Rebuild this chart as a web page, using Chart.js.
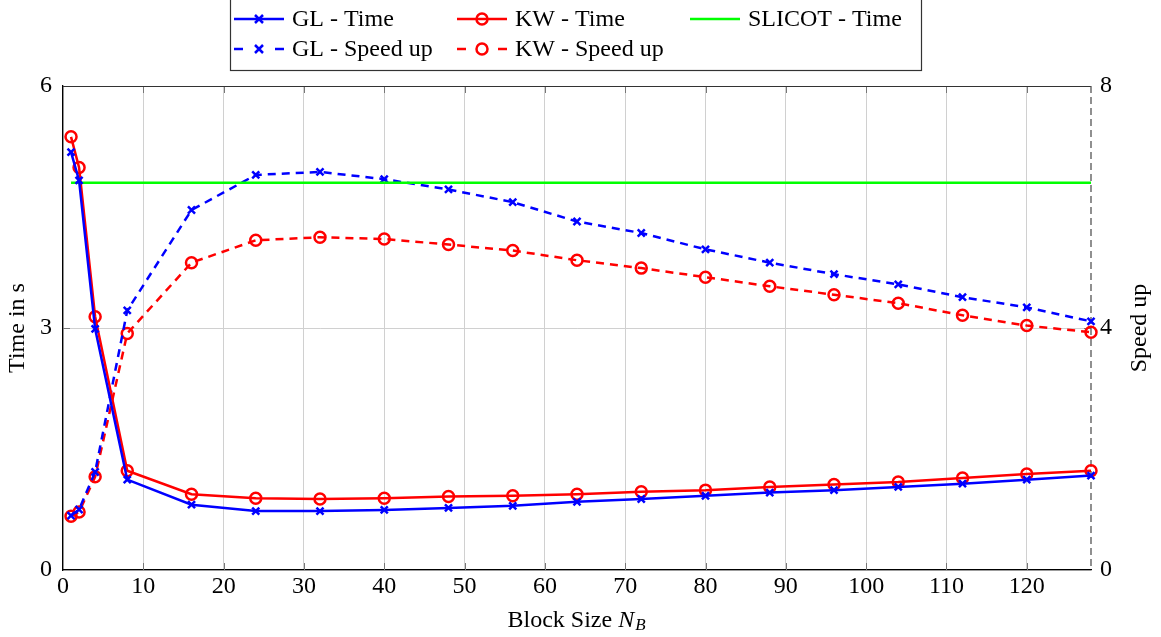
<!DOCTYPE html>
<html>
<head>
<meta charset="utf-8">
<script src="https://cdn.jsdelivr.net/npm/chart.js@4.4.0/dist/chart.umd.min.js"></script>
<style>
  html,body{margin:0;padding:0;background:#fff;}
  #wrap{width:1161px;height:637px;position:relative;}
</style>
</head>
<body>
<div id="wrap"><canvas id="c" width="1161" height="637"></canvas></div>
<script>
const blockSizes = [1,2,4,8,16,24,32,40,48,56,64,72,80,88,96,104,112,120,128];
const glTime   = [5.18,4.83,2.99,1.12,0.81,0.73,0.73,0.745,0.77,0.795,0.845,0.88,0.92,0.96,0.99,1.03,1.07,1.12,1.17];
const kwTime   = [5.37,4.99,3.14,1.23,0.94,0.89,0.88,0.89,0.91,0.92,0.94,0.97,0.99,1.03,1.06,1.09,1.14,1.19,1.23];
const slicotX  = [1,128];
const slicotTime = [4.8,4.8];
const glSpeed  = [0.9,1.0,1.62,4.29,5.95,6.53,6.58,6.46,6.29,6.08,5.76,5.57,5.30,5.08,4.89,4.72,4.51,4.34,4.11];
const kwSpeed  = [0.89,0.96,1.54,3.91,5.08,5.45,5.50,5.47,5.38,5.28,5.12,4.99,4.84,4.69,4.55,4.41,4.21,4.04,3.93];
const xTicksStep = 10, timeTicks = [0,3,6], speedTicks = [0,4,8];

const FONT = "'Liberation Serif', 'DejaVu Serif', serif";
const BLUE = '#0000ff', RED = '#ff0000', GREEN = '#00ff00';
const pts = (xs, ys) => xs.map((x,i)=>({x, y:ys[i]}));

// frame pieces that pgfplots draws: top line, dashed right axis, inward tick marks
const frame = {
  id:'frame',
  beforeDatasetsDraw(chart){
    const ctx = chart.ctx, a = chart.chartArea, xs = chart.scales.x, ys = chart.scales.y;
    ctx.save();
    ctx.strokeStyle = '#777'; ctx.lineWidth = 1;
    xs.ticks.forEach(t=>{
      const px = Math.round(xs.getPixelForValue(t.value))+0.5;
      if(px <= a.left+1) return;
      ctx.beginPath(); ctx.moveTo(px, a.bottom); ctx.lineTo(px, a.bottom-7);
      ctx.moveTo(px, a.top); ctx.lineTo(px, a.top+7); ctx.stroke();
    });
    const py = Math.round(ys.getPixelForValue(3))+0.5;
    ctx.beginPath(); ctx.moveTo(a.left, py); ctx.lineTo(a.left+7, py);
    ctx.moveTo(a.right, py); ctx.lineTo(a.right-7, py); ctx.stroke();
    ctx.strokeStyle = '#333'; ctx.lineWidth = 1.2;
    ctx.beginPath(); ctx.moveTo(a.left, a.top+0.5); ctx.lineTo(a.right, a.top+0.5); ctx.stroke();
    ctx.strokeStyle = '#555'; ctx.lineWidth = 1.3; ctx.setLineDash([7,4]);
    ctx.beginPath(); ctx.moveTo(a.right, a.top); ctx.lineTo(a.right, a.bottom); ctx.stroke();
    ctx.restore();
  }
};

const titles = {
  id:'titles',
  afterDraw(chart){
    const ctx = chart.ctx, a = chart.chartArea;
    ctx.save();
    ctx.fillStyle = '#000';
    ctx.font = `24px ${FONT}`;
    ctx.textBaseline = 'middle'; ctx.textAlign = 'center';
    // y titles
    ctx.save(); ctx.translate(18, (a.top+a.bottom)/2); ctx.rotate(-Math.PI/2);
    ctx.fillText('Time in s', 0, 0); ctx.restore();
    ctx.save(); ctx.translate(1140, (a.top+a.bottom)/2); ctx.rotate(-Math.PI/2);
    ctx.fillText('Speed up', 0, 0); ctx.restore();
    // x title with subscript
    ctx.textAlign = 'left';
    const t1 = 'Block Size ';
    ctx.font = `24px ${FONT}`; const w1 = ctx.measureText(t1).width;
    ctx.font = `italic 24px ${FONT}`; const w2 = ctx.measureText('N').width;
    ctx.font = `italic 17px ${FONT}`; const w3 = ctx.measureText('B').width;
    let x0 = 577 - (w1+w2+w3+2)/2, y0 = 621;
    ctx.font = `24px ${FONT}`; ctx.fillText(t1, x0, y0);
    ctx.font = `italic 24px ${FONT}`; ctx.fillText('N', x0+w1, y0);
    ctx.font = `italic 17px ${FONT}`; ctx.fillText('B', x0+w1+w2+1, y0+5);

    // legend
    ctx.strokeStyle = '#333'; ctx.lineWidth = 1.2;
    ctx.strokeRect(230.5, -1, 691, 71.5);
    const items = [
      {t:'GL - Time', c:BLUE, m:'x', dash:false, x:232, y:19},
      {t:'KW - Time', c:RED, m:'o', dash:false, x:455, y:19},
      {t:'SLICOT - Time', c:GREEN, m:null, dash:false, x:688, y:19},
      {t:'GL - Speed up', c:BLUE, m:'x', dash:true, x:232, y:49},
      {t:'KW - Speed up', c:RED, m:'o', dash:true, x:455, y:49},
    ];
    items.forEach(it=>{
      ctx.strokeStyle = it.c; ctx.lineWidth = 2.5;
      const xa = it.x+2, xb = it.x+52, xm = (xa+xb)/2;
      if(it.dash){
        ctx.beginPath(); ctx.moveTo(xa, it.y); ctx.lineTo(xa+9, it.y); ctx.stroke();
        ctx.beginPath(); ctx.moveTo(xb-9, it.y); ctx.lineTo(xb, it.y); ctx.stroke();
      } else {
        ctx.beginPath(); ctx.moveTo(xa, it.y); ctx.lineTo(xb, it.y); ctx.stroke();
      }
      if(it.m==='x'){
        const r=4;
        ctx.beginPath(); ctx.moveTo(xm-r,it.y-r); ctx.lineTo(xm+r,it.y+r);
        ctx.moveTo(xm-r,it.y+r); ctx.lineTo(xm+r,it.y-r); ctx.stroke();
      } else if(it.m==='o'){
        ctx.beginPath(); ctx.arc(xm, it.y, 5.5, 0, Math.PI*2); ctx.stroke();
      }
      ctx.fillStyle = '#000'; ctx.font = `24px ${FONT}`; ctx.textAlign = 'left';
      ctx.fillText(it.t, it.x+60, it.y+1);
    });
    ctx.restore();
  }
};

new Chart(document.getElementById('c').getContext('2d'), {
  type:'line',
  data:{ datasets:[
    { label:'GL - Time', data:pts(blockSizes, glTime), yAxisID:'y', borderColor:BLUE, borderWidth:2.5,
      pointStyle:'crossRot', pointRadius:5, pointBorderWidth:2.5, pointBorderColor:BLUE, backgroundColor:'rgba(0,0,0,0)' },
    { label:'KW - Time', data:pts(blockSizes, kwTime), yAxisID:'y', borderColor:RED, borderWidth:2.5,
      pointStyle:'circle', pointRadius:5.5, pointBorderWidth:2.5, pointBorderColor:RED, pointBackgroundColor:'rgba(0,0,0,0)', backgroundColor:'rgba(0,0,0,0)' },
    { label:'SLICOT - Time', data:pts(slicotX, slicotTime), yAxisID:'y', borderColor:GREEN, borderWidth:2.5, pointRadius:0 },
    { label:'GL - Speed up', data:pts(blockSizes, glSpeed), yAxisID:'y2', borderColor:BLUE, borderWidth:2.5, borderDash:[8,6],
      pointStyle:'crossRot', pointRadius:5, pointBorderWidth:2.5, pointBorderColor:BLUE, backgroundColor:'rgba(0,0,0,0)' },
    { label:'KW - Speed up', data:pts(blockSizes, kwSpeed), yAxisID:'y2', borderColor:RED, borderWidth:2.5, borderDash:[8,6],
      pointStyle:'circle', pointRadius:5.5, pointBorderWidth:2.5, pointBorderColor:RED, pointBackgroundColor:'rgba(0,0,0,0)', backgroundColor:'rgba(0,0,0,0)' },
  ]},
  options:{
    responsive:false, animation:false, clip:false,
    layout:{ padding:{ top:86, left:0, right:0, bottom:0 } },
    plugins:{ legend:{display:false}, tooltip:{enabled:false} },
    elements:{ line:{ tension:0 } },
    scales:{
      x:{ type:'linear', min:0, max:128,
        ticks:{ stepSize:xTicksStep, font:{family:FONT, size:24}, color:'#000', padding:2, maxRotation:0 },
        afterBuildTicks: s => { s.ticks = s.ticks.filter(t => t.value % xTicksStep === 0); },
        afterFit: s => { s.height = 67; },
        grid:{ color:'#d0d0d0', lineWidth:1, tickLength:0 },
        border:{ color:'#000', width:1.3 } },
      y:{ position:'left', min:0, max:6,
        afterBuildTicks: s => { s.ticks = timeTicks.map(v=>({value:v})); },
        afterFit: s => { s.width = 63; },
        ticks:{ font:{family:FONT, size:24}, color:'#000', padding:11 },
        grid:{ color:'#d0d0d0', lineWidth:1, tickLength:0 },
        border:{ color:'#000', width:1.3 } },
      y2:{ position:'right', min:0, max:8,
        afterBuildTicks: s => { s.ticks = speedTicks.map(v=>({value:v})); },
        afterFit: s => { s.width = 70; },
        ticks:{ font:{family:FONT, size:24}, color:'#000', padding:9 },
        grid:{ drawOnChartArea:false, tickLength:0 },
        border:{ display:false } }
    }
  },
  plugins:[frame, titles]
});
</script>
</body>
</html>
